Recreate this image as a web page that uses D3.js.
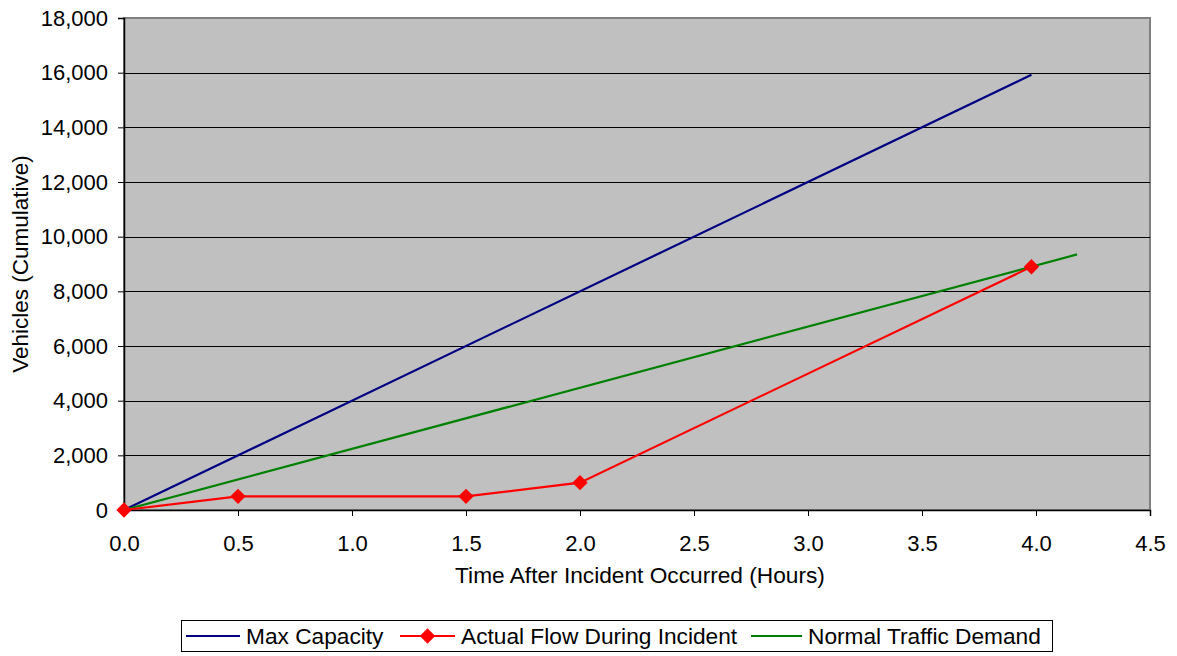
<!DOCTYPE html>
<html>
<head>
<meta charset="utf-8">
<script src="https://cdn.jsdelivr.net/npm/d3@7"></script>
<style>
  html, body { margin: 0; padding: 0; background: #fff; }
  svg { display: block; font-family: "Liberation Sans", Arial, sans-serif; }
</style>
</head>
<body>
<svg id="chart" width="1177" height="656"></svg>
<script>
// Cumulative vehicle counts after an incident
const maxCapacityHours = [0, 3.98];
const maxCapacityVehicles = [0, 15920];

const actualFlowHours = [0, 0.5, 1.5, 2.0, 3.98];
const actualFlowVehicles = [0, 500, 500, 1000, 8900];

const normalDemandHours = [0, 4.18];
const normalDemandVehicles = [0, 9350];

const xTicks = [0, 0.5, 1.0, 1.5, 2.0, 2.5, 3.0, 3.5, 4.0, 4.5];
const yTicks = [0, 2000, 4000, 6000, 8000, 10000, 12000, 14000, 16000, 18000];

const seriesNames = ["Max Capacity", "Actual Flow During Incident", "Normal Traffic Demand"];
const seriesColors = ["#000080", "#FF0000", "#008000"];

const svg = d3.select("#chart");
const plotL = 124, plotR = 1150, plotT = 18, plotB = 510;

const x = d3.scaleLinear().domain([0, 4.5]).range([plotL, plotR]);
const y = d3.scaleLinear().domain([0, 18000]).range([plotB, plotT]);

// plot background
svg.append("rect")
  .attr("x", plotL).attr("y", plotT)
  .attr("width", plotR - plotL).attr("height", plotB - plotT)
  .attr("fill", "#C0C0C0")
  .attr("stroke", "#808080").attr("stroke-width", 2);

// horizontal gridlines
svg.append("g").selectAll("line")
  .data(yTicks.filter(d => d > 0 && d < 18000))
  .join("line")
  .attr("x1", plotL).attr("x2", plotR)
  .attr("y1", d => Math.round(y(d)) + 0.5).attr("y2", d => Math.round(y(d)) + 0.5)
  .attr("stroke", "#000").attr("stroke-width", 1);

// axes
const fmtY = d3.format(",");
const yAxis = svg.append("g")
  .attr("transform", `translate(${plotL},0)`)
  .call(d3.axisLeft(y).tickValues(yTicks).tickFormat(fmtY).tickSize(6).tickPadding(10));
const xAxis = svg.append("g")
  .attr("transform", `translate(0,${plotB})`)
  .call(d3.axisBottom(x).tickValues(xTicks).tickFormat(d3.format(".1f")).tickSize(6).tickPadding(19));

[yAxis, xAxis].forEach(g => {
  g.select(".domain").attr("stroke", "#000").attr("stroke-width", 1.5);
  g.selectAll(".tick line").attr("stroke", "#000");
  g.selectAll("text").attr("font-size", 22).attr("fill", "#000")
    .attr("font-family", "Liberation Sans, Arial, sans-serif");
});

// series lines
const line = d3.line().x(d => x(d[0])).y(d => y(d[1]));
const series = [
  d3.zip(maxCapacityHours, maxCapacityVehicles),
  d3.zip(actualFlowHours, actualFlowVehicles),
  d3.zip(normalDemandHours, normalDemandVehicles)
];
const drawOrder = [0, 2, 1];
drawOrder.forEach(i => {
  svg.append("path")
    .datum(series[i])
    .attr("d", line)
    .attr("fill", "none")
    .attr("stroke", seriesColors[i])
    .attr("stroke-width", 2.2);
});

// diamond markers on the actual flow series
const diamond = d3.symbol().type(d3.symbolDiamond2).size(150);
svg.append("g").selectAll("path")
  .data(series[1])
  .join("path")
  .attr("d", diamond)
  .attr("transform", d => `translate(${x(d[0])},${y(d[1])})`)
  .attr("fill", seriesColors[1]);

// axis titles
svg.append("text")
  .attr("x", 640).attr("y", 583)
  .attr("text-anchor", "middle")
  .attr("font-size", 22.7)
  .text("Time After Incident Occurred (Hours)");
svg.append("text")
  .attr("transform", `translate(28,${(plotT + plotB) / 2}) rotate(-90)`)
  .attr("text-anchor", "middle")
  .attr("font-size", 22.5)
  .text("Vehicles (Cumulative)");

// legend
const legend = svg.append("g");
legend.append("rect")
  .attr("x", 181.5).attr("y", 620.5).attr("width", 871).attr("height", 31)
  .attr("fill", "#fff").attr("stroke", "#000").attr("stroke-width", 1);
const legendItems = [
  { x1: 186, x2: 240, tx: 246 },
  { x1: 400, x2: 455, tx: 461 },
  { x1: 751, x2: 802, tx: 808 }
];
legendItems.forEach((it, i) => {
  legend.append("line")
    .attr("x1", it.x1).attr("x2", it.x2).attr("y1", 636).attr("y2", 636)
    .attr("stroke", seriesColors[i]).attr("stroke-width", 2.2);
  if (i === 1) {
    legend.append("path")
      .attr("d", diamond)
      .attr("transform", `translate(${(it.x1 + it.x2) / 2},636)`)
      .attr("fill", seriesColors[i]);
  }
  legend.append("text")
    .attr("x", it.tx).attr("y", 644)
    .attr("font-size", 22.7)
    .text(seriesNames[i]);
});
</script>
</body>
</html>
